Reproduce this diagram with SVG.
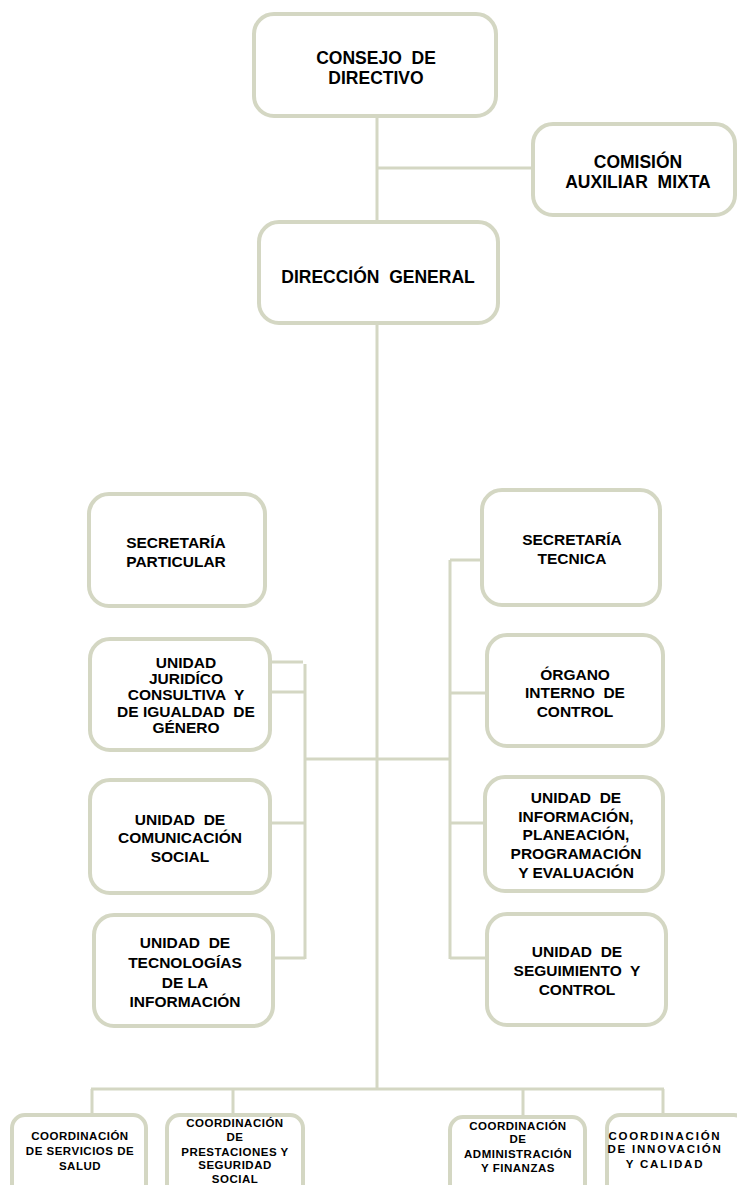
<svg xmlns="http://www.w3.org/2000/svg" width="737" height="1185" viewBox="0 0 737 1185">
<style>
.box{fill:#ffffff;stroke:#D4D7C3;stroke-width:4}
.ln{stroke:#D4D7C3;stroke-width:3;fill:none}
text{font-family:"Liberation Sans",Arial,sans-serif;font-weight:bold;fill:#000000;text-anchor:middle}
.t1{font-size:17.5px}
.t2{font-size:15.5px}
.t3{font-size:11.5px;letter-spacing:0.5px}
.t4{font-size:11.5px;letter-spacing:1.8px}
</style>
<rect width="737" height="1185" fill="#ffffff"/>
<g id="connectors">
<path class="ln" d="M377 116 V222 M377 168 H533 M377 323 V1089 M91 1089 H664 M92 1089 V1115 M233 1089 V1115 M523 1089 V1117 M663 1089 V1115"/>
<path class="ln" d="M305 759 H450 M305 664 V959 M270 662 H303 M270 692 H305 M270 823 H305 M273 958 H305"/>
<path class="ln" d="M450 560 V959 M450 560 H482 M450 693 H487 M450 823 H485 M450 958 H487"/>
</g>
<g id="consejo"><rect class="box" x="254" y="14" width="242" height="102" rx="20"/>
<text class="t1" x="376" y="64" xml:space="preserve">CONSEJO  DE</text><text class="t1" x="376" y="84">DIRECTIVO</text></g>
<g id="comision"><rect class="box" x="533" y="124" width="202" height="91" rx="20"/>
<text class="t1" x="638" y="168">COMISIÓN</text><text class="t1" x="638" y="188" xml:space="preserve">AUXILIAR  MIXTA</text></g>
<g id="direccion"><rect class="box" x="259" y="222" width="239" height="101" rx="20"/>
<text class="t1" x="378" y="283" xml:space="preserve">DIRECCIÓN  GENERAL</text></g>
<g id="sec-particular"><rect class="box" x="89" y="494" width="176" height="112" rx="20"/>
<text class="t2" x="176" y="548">SECRETARÍA</text><text class="t2" x="176" y="567">PARTICULAR</text></g>
<g id="juridico"><rect class="box" x="90" y="639" width="180" height="111" rx="20"/>
<text class="t2" x="186" y="668">UNIDAD</text><text class="t2" x="186" y="684">JURIDÍCO</text><text class="t2" x="186" y="700" xml:space="preserve">CONSULTIVA  Y</text><text class="t2" x="186" y="717" xml:space="preserve">DE IGUALDAD  DE</text><text class="t2" x="186" y="733">GÉNERO</text></g>
<g id="comunicacion"><rect class="box" x="90" y="780" width="180" height="113" rx="20"/>
<text class="t2" x="180" y="825" xml:space="preserve">UNIDAD  DE</text><text class="t2" x="180" y="843">COMUNICACIÓN</text><text class="t2" x="180" y="862">SOCIAL</text></g>
<g id="tecnologias"><rect class="box" x="94" y="915" width="179" height="111" rx="20"/>
<text class="t2" x="185" y="948" xml:space="preserve">UNIDAD  DE</text><text class="t2" x="185" y="968">TECNOLOGÍAS</text><text class="t2" x="185" y="988">DE LA</text><text class="t2" x="185" y="1007">INFORMACIÓN</text></g>
<g id="sec-tecnica"><rect class="box" x="482" y="490" width="178" height="115" rx="20"/>
<text class="t2" x="572" y="545">SECRETARÍA</text><text class="t2" x="572" y="564">TECNICA</text></g>
<g id="organo"><rect class="box" x="487" y="635" width="176" height="111" rx="20"/>
<text class="t2" x="575" y="680">ÓRGANO</text><text class="t2" x="575" y="698" xml:space="preserve">INTERNO  DE</text><text class="t2" x="575" y="717">CONTROL</text></g>
<g id="informacion"><rect class="box" x="485" y="777" width="178" height="114" rx="20"/>
<text class="t2" x="576" y="803" xml:space="preserve">UNIDAD  DE</text><text class="t2" x="576" y="822">INFORMACIÓN,</text><text class="t2" x="576" y="840">PLANEACIÓN,</text><text class="t2" x="576" y="859">PROGRAMACIÓN</text><text class="t2" x="576" y="878">Y EVALUACIÓN</text></g>
<g id="seguimiento"><rect class="box" x="487" y="914" width="179" height="111" rx="20"/>
<text class="t2" x="577" y="957" xml:space="preserve">UNIDAD  DE</text><text class="t2" x="577" y="976" xml:space="preserve">SEGUIMIENTO  Y</text><text class="t2" x="577" y="995">CONTROL</text></g>
<g id="coord-salud"><rect class="box" x="12" y="1115" width="134" height="90" rx="13"/>
<text class="t3" x="80" y="1140">COORDINACIÓN</text><text class="t3" x="80" y="1155">DE SERVICIOS DE</text><text class="t3" x="80" y="1170">SALUD</text></g>
<g id="coord-prestaciones"><rect class="box" x="167" y="1115" width="136" height="90" rx="13"/>
<text class="t3" x="235" y="1127">COORDINACIÓN</text><text class="t3" x="235" y="1141">DE</text><text class="t3" x="235" y="1156">PRESTACIONES Y</text><text class="t3" x="235" y="1169">SEGURIDAD</text><text class="t3" x="235" y="1183">SOCIAL</text></g>
<g id="coord-administracion"><rect class="box" x="450" y="1117" width="135" height="90" rx="13"/>
<text class="t3" x="518" y="1130">COORDINACIÓN</text><text class="t3" x="518" y="1143">DE</text><text class="t3" x="518" y="1158">ADMINISTRACIÓN</text><text class="t3" x="518" y="1172">Y FINANZAS</text></g>
<g id="coord-innovacion"><rect class="box" x="607" y="1115" width="140" height="90" rx="13"/>
<text class="t4" x="665" y="1140">COORDINACIÓN</text><text class="t4" x="665" y="1153">DE INNOVACIÓN</text><text class="t4" x="665" y="1168">Y CALIDAD</text></g>
</svg>
